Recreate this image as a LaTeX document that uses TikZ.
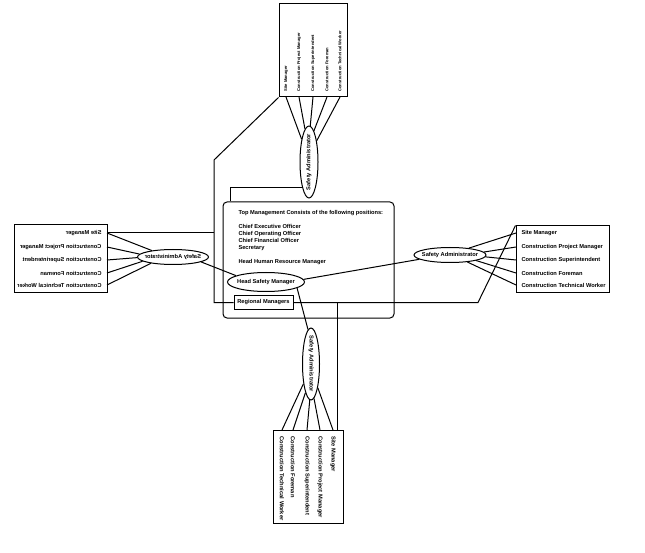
\documentclass[tikz,border=0pt]{standalone}
\usepackage{fontspec}
\newfontfamily\orgfont{Liberation Sans}
\usetikzlibrary{shapes.geometric}

\begin{document}
\begin{tikzpicture}[x=1pt,y=-1pt,line width=1pt,
    lbl/.style={font=\orgfont\bfseries\fontsize{5.7}{7}\selectfont},
    saell/.style={draw,ellipse,inner sep=0pt},
    ritem/.style={lbl,anchor=west,inner xsep=5pt,inner ysep=0pt},
    litem/.style={lbl,anchor=east,inner xsep=5pt,inner ysep=0pt},
    titem/.style={font=\orgfont\bfseries\fontsize{4.1}{5}\selectfont,anchor=south,inner ysep=5pt,inner xsep=0pt},
    bitem/.style={lbl,anchor=north,inner ysep=6pt,inner xsep=0pt}]
    \useasboundingbox (0,0) rectangle (645,553);

    % top management
    \node[draw,rounded corners=4pt,minimum width=171,minimum height=116] (mgmt) at (308.5,260) {};
    \node[lbl,anchor=north west,align=left,inner sep=0pt] (topText) at (238,210) {Top Management Consists of the following positions:\\[7pt]
        Chief Executive Officer\\ Chief Operating Officer\\ Chief Financial Officer\\ Secretary\\[7pt]
        Head Human Resource Manager};
    \node[saell,minimum width=77,minimum height=19,label={[lbl]center:Head Safety Manager}] (hsm) at (266,282) {};
    \node[draw,lbl,minimum width=59,minimum height=13,inner sep=0pt] (rm) at (263.5,302.5) {Regional Managers};

    % right
    \node[draw,minimum width=93,minimum height=67] (boxR) at (562.5,259.5) {};
    \node[ritem] (r1) at (516,233) {Site Manager};
    \node[ritem] (r2) at (516,247) {Construction Project Manager};
    \node[ritem] (r3) at (516,260) {Construction Superintendent};
    \node[ritem] (r4) at (516,273) {Construction Foreman};
    \node[ritem] (r5) at (516,285) {Construction Technical Worker};
    \node[saell,minimum width=72,minimum height=15,label={[lbl]center:Safety Administrator}] (saR) at (450,255) {};

    % left (mirrored)
    \node[draw,minimum width=93,minimum height=68] (boxL) at (60.5,259) {};
    \node[litem] (l1) at (107,233) {\reflectbox{Site Manager}};
    \node[litem] (l2) at (107,247) {\reflectbox{Construction Project Manager}};
    \node[litem] (l3) at (107,260) {\reflectbox{Construction Superintendent}};
    \node[litem] (l4) at (107,273) {\reflectbox{Construction Foreman}};
    \node[litem] (l5) at (107,285) {\reflectbox{Construction Technical Worker}};
    \node[saell,minimum width=71,minimum height=15,label={[lbl]center:\reflectbox{Safety Administrator}}] (saL) at (173,257) {};

    % top
    \node[draw,minimum width=68,minimum height=93] (boxT) at (313,50.5) {};
    \node[titem] (t1) at (286,97) {\rotatebox{90}{Site Manager}};
    \node[titem] (t2) at (299,97) {\rotatebox{90}{Construction Project Manager}};
    \node[titem] (t3) at (313,97) {\rotatebox{90}{Construction Superintendent}};
    \node[titem] (t4) at (327,97) {\rotatebox{90}{Construction Foreman}};
    \node[titem] (t5) at (340,97) {\rotatebox{90}{Construction Technical Worker}};
    \node[saell,minimum width=18,minimum height=72,label={[lbl]center:\rotatebox{90}{Safety Administrator}}] (saT) at (309,162) {};

    % bottom
    \node[draw,minimum width=70,minimum height=93] (boxB) at (308,476.5) {};
    \node[bitem] (b1) at (333,430) {\rotatebox{-90}{Site Manager}};
    \node[bitem] (b2) at (320,430) {\rotatebox{-90}{Construction Project Manager}};
    \node[bitem] (b3) at (307,430) {\rotatebox{-90}{Construction Superintendent}};
    \node[bitem] (b4) at (293,430) {\rotatebox{-90}{Construction Foreman}};
    \node[bitem] (b5) at (282,430) {\rotatebox{-90}{Construction Technical Worker}};
    \node[saell,minimum width=17,minimum height=72,label={[lbl]center:\rotatebox{-90}{Safety Administrator}}] (saB) at (311,364) {};

    % connectors
    \foreach \i/\a in {1/20,2/5,3/-3,4/-12,5/-22} \draw (saR.\a) -- (r\i.west);
    \foreach \i/\a in {1/163,2/175,3/181,4/188,5/196} \draw (saL.\a) -- (l\i.east);
    \foreach \i/\a in {1/108,2/97,3/88,4/81,5/70} \draw (t\i.south) -- (saT.\a);
    \foreach \i/\a in {1/286,2/275,3/268,4/259,5/249} \draw (b\i.north) -- (saB.\a);

    \draw (saL.-10) -- (hsm.168);
    \draw (hsm.4) -- (saR.188);
    \draw (hsm.-11) -- (saB.95);

    \coordinate (rmBend) at (478,302.5);
    \coordinate (rmDrop) at (337,302.5);
    \coordinate (leftBend) at (214,160);
    \draw (rm.east) -- (rmBend) -- (boxR.north west);
    \draw (rmDrop) -- (rmDrop |- boxB.north);
    \draw (boxT.south west) -- (leftBend) |- (rm.west);
    \draw (l1.east) -- (l1.east -| leftBend);
    \draw (saT.255) -| ([xshift=8pt]mgmt.north west);
\end{tikzpicture}
\end{document}
